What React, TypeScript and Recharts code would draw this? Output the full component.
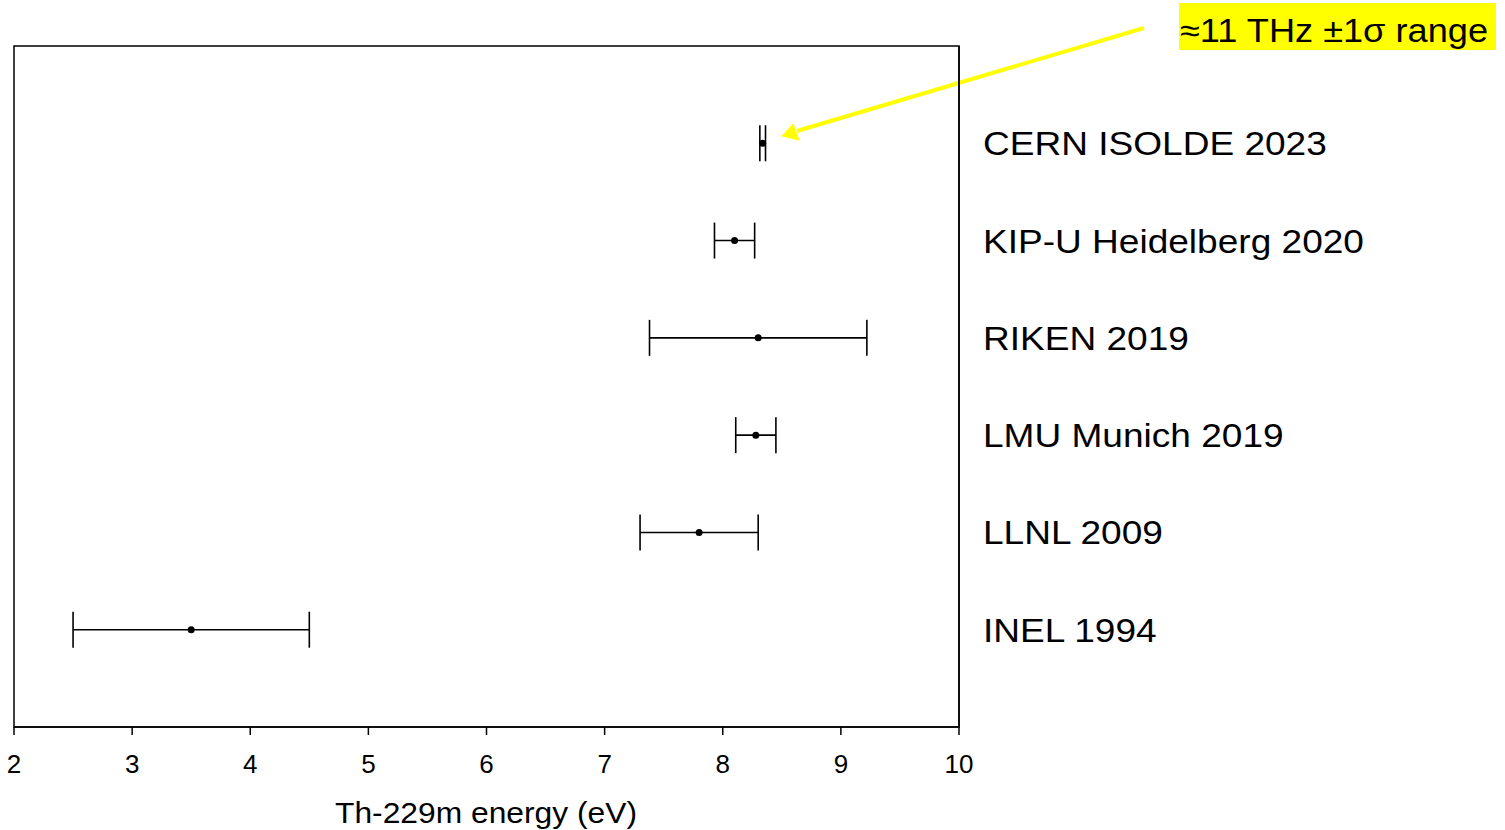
import React from 'react';
import { ScatterChart, Scatter, XAxis, YAxis, ErrorBar, ReferenceArea, Customized } from 'recharts';

const labels = ['INEL 1994', 'LLNL 2009', 'LMU Munich 2019', 'RIKEN 2019', 'KIP-U Heidelberg 2020', 'CERN ISOLDE 2023'];
const positions = [1, 2, 3, 4, 5, 6];
const energies = [3.5, 7.8, 8.28, 8.3, 8.1, 8.338];
const uncertainties = [1.0, 0.5, 0.17, 0.92, 0.17, 0.024];
const xTicks = [2, 3, 4, 5, 6, 7, 8, 9, 10];

const data = labels.map((name, i) => ({ name, y: positions[i], x: energies[i], err: uncertainties[i] }));

const FONT = '"Liberation Sans", Arial, Helvetica, sans-serif';

const CategoryTick = (props: any) => {
  const { x, y, payload } = props;
  const idx = positions.indexOf(payload.value);
  const text = idx >= 0 ? labels[idx] : '';
  return (
    <text
      transform={`translate(${x},${y + 12}) scale(1.09,1)`}
      x={0}
      y={0}
      textAnchor="start"
      fontFamily={FONT}
      fontSize={34}
      fill="#000"
    >
      {text}
    </text>
  );
};

const Annotation = () => (
  <g>
    <text x={486} y={823} textAnchor="middle" fontFamily={FONT} fontSize={29} fill="#000" textLength={302} lengthAdjust="spacingAndGlyphs">
      Th-229m energy (eV)
    </text>
    <rect x={1179} y={3} width={317} height={47} fill="#FFFF00" />
    <text x={1180} y={42} fontFamily={FONT} fontSize={33} fill="#000" textLength={308} lengthAdjust="spacingAndGlyphs">
      ≈11 THz ±1σ range
    </text>
    <line x1={1144} y1={28} x2={797} y2={131} stroke="#FFFF00" strokeWidth={4} />
    <polygon points="782,136 793,124 799,140" fill="#FFFF00" stroke="#FFFF00" strokeWidth={1} />
  </g>
);

export default function App() {
  return (
    <div style={{ position: 'absolute', left: 0, top: 0, width: 1505, height: 830, background: '#fff' }}>
      <ScatterChart width={1505} height={830} margin={{ top: 46, right: 0, bottom: 43, left: 14 }}>
        <ReferenceArea x1={2} x2={10} y1={0} y2={7} fill="none" stroke="#000" strokeWidth={1.5} ifOverflow="visible" />
        <XAxis
          type="number"
          dataKey="x"
          domain={[2, 10]}
          ticks={xTicks}
          allowDataOverflow
          height={60}
          tickSize={8}
          tickMargin={20}
          axisLine={{ stroke: '#000', strokeWidth: 1.5 }}
          tickLine={{ stroke: '#000', strokeWidth: 1.5 }}
          tick={{ fontSize: 26, fill: '#000', fontFamily: FONT }}
        />
        <YAxis
          type="number"
          dataKey="y"
          orientation="right"
          domain={[0, 7]}
          ticks={positions}
          width={546}
          tickSize={0}
          tickMargin={24}
          tickLine={false}
          axisLine={{ stroke: '#000', strokeWidth: 1.5 }}
          tick={<CategoryTick />}
        />
        <Scatter data={data} fill="#000" isAnimationActive={false} shape={(p: any) => <circle cx={p.cx} cy={p.cy} r={3.5} fill="#000" />}>
          <ErrorBar dataKey="err" direction="x" width={18} stroke="#000" strokeWidth={1.6} isAnimationActive={false} />
        </Scatter>
        <Customized component={<Annotation />} />
      </ScatterChart>
    </div>
  );
}
